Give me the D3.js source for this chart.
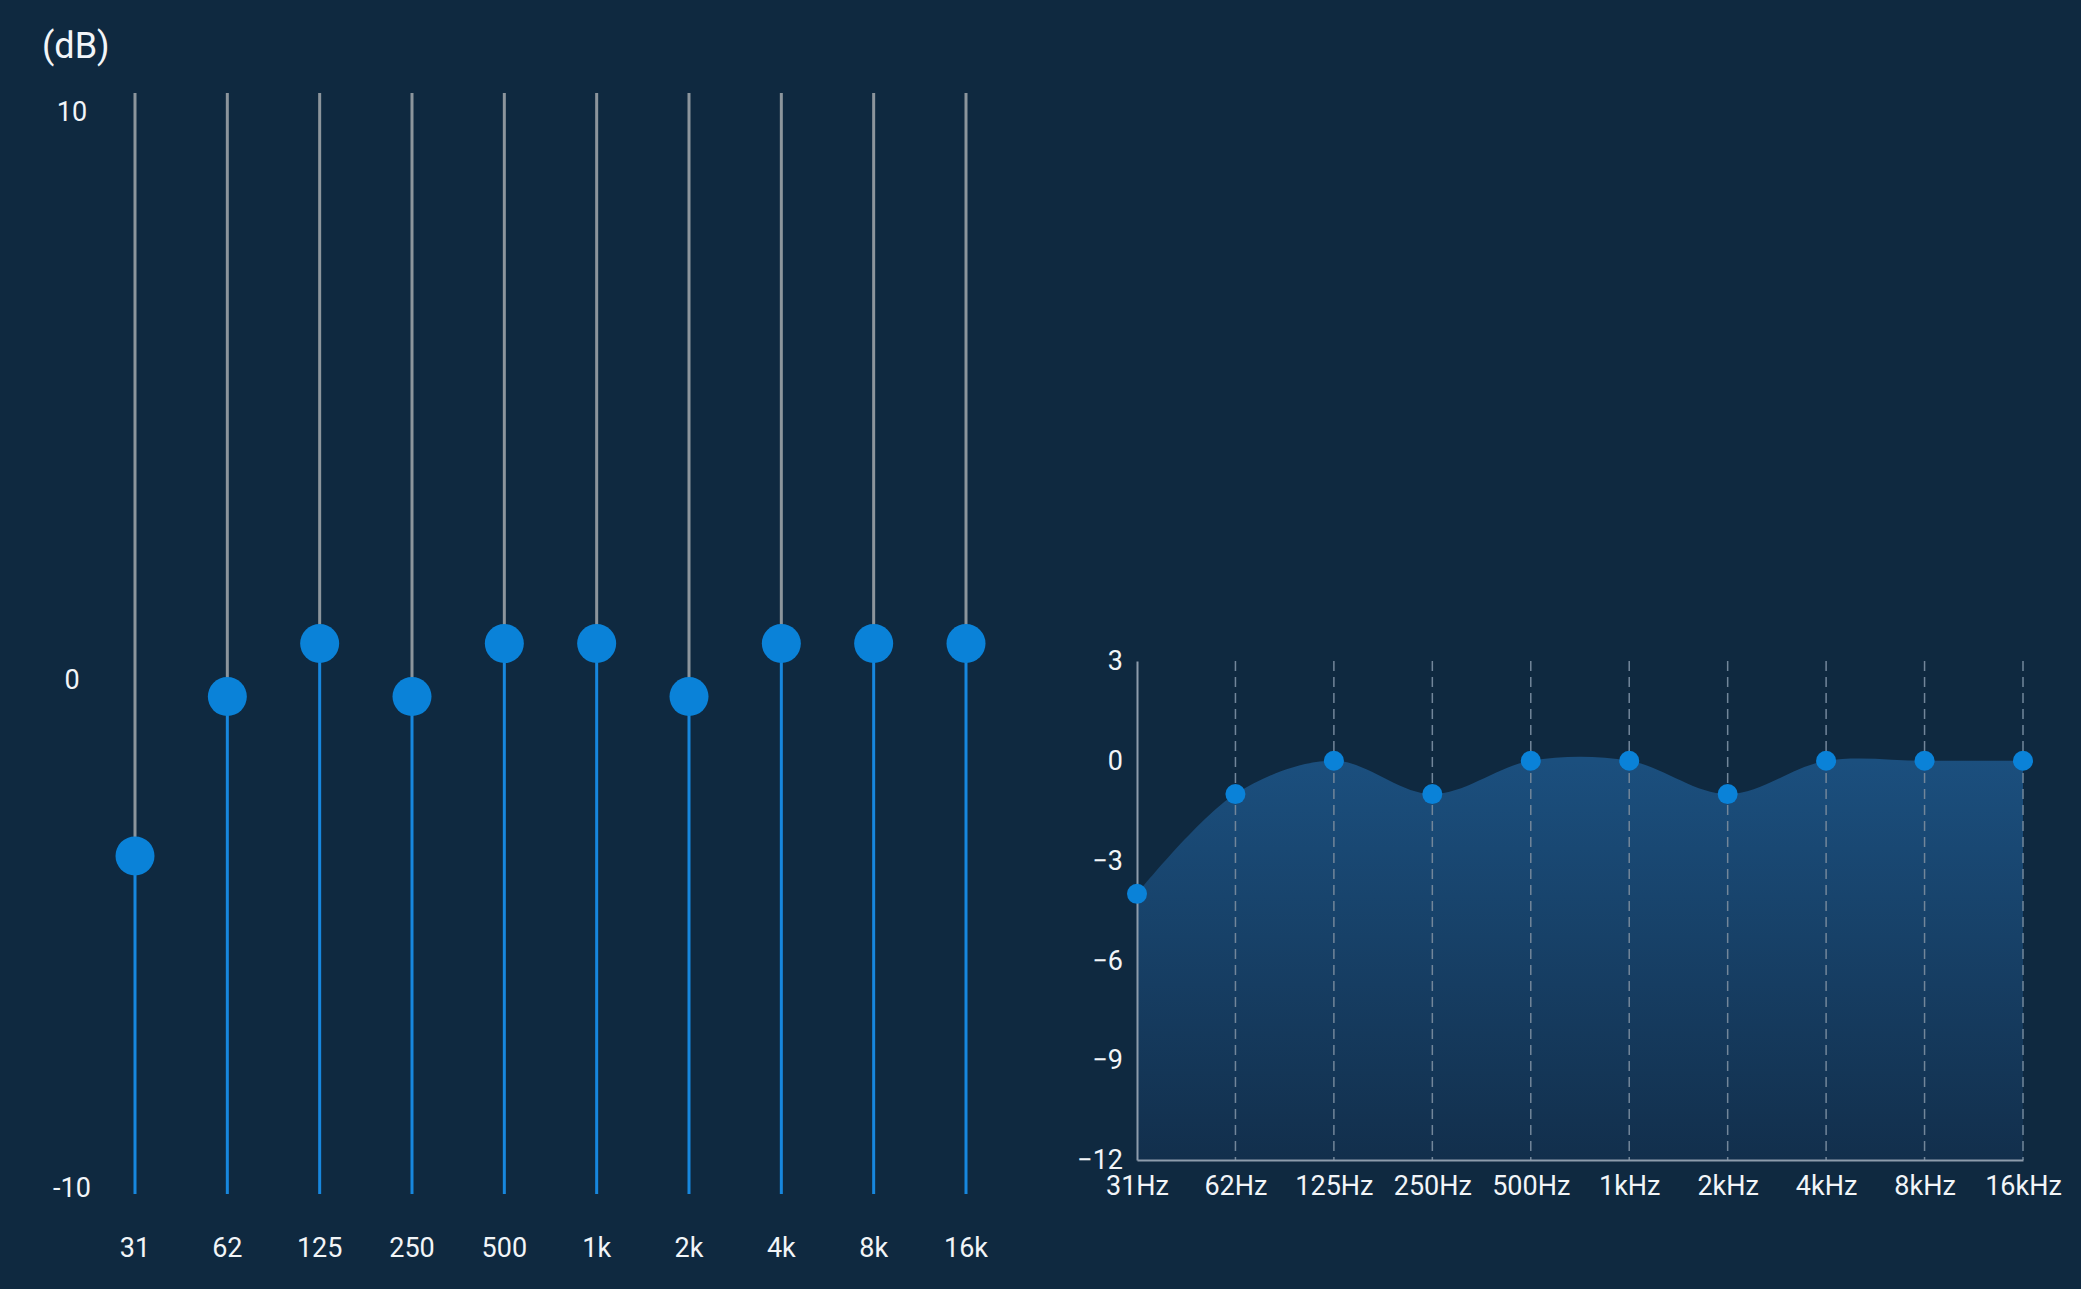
<!DOCTYPE html>
<html>
<head>
<meta charset="utf-8">
<script src="https://cdn.jsdelivr.net/npm/d3@7"></script>
<style>
  html, body { margin: 0; padding: 0; background: #0f2940; }
  svg { display: block; font-family: Roboto, "Noto Sans", sans-serif; }
</style>
</head>
<body>
<div id="eq"></div>
<script>
// equalizer bands and gains (dB)
var bandLabels = ["31", "62", "125", "250", "500", "1k", "2k", "4k", "8k", "16k"];
var hzLabels = ["31Hz", "62Hz", "125Hz", "250Hz", "500Hz", "1kHz", "2kHz", "4kHz", "8kHz", "16kHz"];
var gains = [-4, -1, 0, -1, 0, 0, -1, 0, 0, 0];
var sliderTicks = [10, 0, -10];
var curveTicks = [3, 0, -3, -6, -9, -12];

var width = 2081, height = 1289;

var svg = d3.select("#eq")
    .append("svg")
    .attr("width", width)
    .attr("height", height);

svg.append("rect")
    .attr("width", width)
    .attr("height", height)
    .attr("fill", "#0f2940");

var data = bandLabels.map(function(b, i) {
    return { band: b, hz: hzLabels[i], gain: gains[i] };
});

////////////////////////////
// LEFT: SLIDER EQUALIZER //
////////////////////////////

var trackTop = 93, trackBottom = 1194, knobR = 19.5;

var xs = d3.scalePoint()
    .domain(bandLabels)
    .range([135, 966]);

// knob travel is the track minus the knob radius
var ys = d3.scaleLinear()
    .domain([-10, 10])
    .range([trackBottom - knobR, trackTop + knobR]);

// tick labels sit a little off the knob scale in the original
var yLabel = d3.scaleLinear()
    .domain([10, 0, -10])
    .range([112, 680, 1188]);

svg.append("text")
    .attr("x", 42)
    .attr("y", 45)
    .attr("dy", "0.35em")
    .attr("fill", "#f2f5f8")
    .attr("font-size", 36)
    .text("(dB)");

svg.selectAll(".slabel")
    .data(sliderTicks)
    .join("text")
    .attr("class", "slabel")
    .attr("x", 72)
    .attr("y", function(d) { return yLabel(d); })
    .attr("dy", "0.35em")
    .attr("text-anchor", "middle")
    .attr("fill", "#f2f5f8")
    .attr("font-size", 27)
    .text(function(d) { return d; });

var slider = svg.selectAll(".slider")
    .data(data)
    .join("g")
    .attr("class", "slider");

// gray part above the knob
slider.append("line")
    .attr("x1", function(d) { return xs(d.band); })
    .attr("x2", function(d) { return xs(d.band); })
    .attr("y1", trackTop)
    .attr("y2", function(d) { return ys(d.gain); })
    .attr("stroke", "#8c959c")
    .attr("stroke-width", 3);

// blue part below the knob
slider.append("line")
    .attr("x1", function(d) { return xs(d.band); })
    .attr("x2", function(d) { return xs(d.band); })
    .attr("y1", function(d) { return ys(d.gain); })
    .attr("y2", trackBottom)
    .attr("stroke", "#1787de")
    .attr("stroke-width", 3);

slider.append("circle")
    .attr("cx", function(d) { return xs(d.band); })
    .attr("cy", function(d) { return ys(d.gain); })
    .attr("r", knobR)
    .attr("fill", "#0a82d8");

slider.append("text")
    .attr("x", function(d) { return xs(d.band); })
    .attr("y", 1248)
    .attr("dy", "0.35em")
    .attr("text-anchor", "middle")
    .attr("fill", "#f2f5f8")
    .attr("font-size", 27)
    .text(function(d) { return d.band; });

///////////////////////////////
// RIGHT: RESPONSE CURVE     //
///////////////////////////////

var plotLeft = 1137, plotRight = 2023, plotTop = 661, plotBottom = 1160;

var xc = d3.scalePoint()
    .domain(hzLabels)
    .range([plotLeft, plotRight]);

var yc = d3.scaleLinear()
    .domain([-12, 3])
    .range([plotBottom, plotTop]);

var defs = svg.append("defs");
var grad = defs.append("linearGradient")
    .attr("id", "areaFill")
    .attr("gradientUnits", "userSpaceOnUse")
    .attr("x1", 0).attr("x2", 0)
    .attr("y1", yc(0)).attr("y2", yc(-12));
grad.append("stop").attr("offset", "0%").attr("stop-color", "#1b4f7e");
grad.append("stop").attr("offset", "100%").attr("stop-color", "#122f4c");

var area = d3.area()
    .x(function(d) { return xc(d.hz); })
    .y0(yc(-12))
    .y1(function(d) { return yc(d.gain); })
    .curve(d3.curveCatmullRom);

svg.append("path")
    .datum(data)
    .attr("d", area)
    .attr("fill", "url(#areaFill)");

// dashed grid lines (first one is the solid y axis)
svg.selectAll(".grid")
    .data(hzLabels.slice(1))
    .join("line")
    .attr("class", "grid")
    .attr("x1", function(d) { return xc(d); })
    .attr("x2", function(d) { return xc(d); })
    .attr("y1", plotTop)
    .attr("y2", plotBottom)
    .attr("stroke", "#72869a")
    .attr("stroke-width", 1.5)
    .attr("stroke-dasharray", "10,6");

var yAxis = svg.append("g")
    .attr("transform", "translate(" + plotLeft + ",0)")
    .call(d3.axisLeft(yc).tickValues(curveTicks).tickSize(0).tickPadding(14));

var xAxis = svg.append("g")
    .attr("transform", "translate(0," + plotBottom + ")")
    .call(d3.axisBottom(xc).tickSize(0).tickPadding(16));

[yAxis, xAxis].forEach(function(ax) {
    ax.select(".domain").attr("stroke", "#8d9cab").attr("stroke-width", 2);
    ax.selectAll("text")
        .attr("fill", "#f2f5f8")
        .attr("font-size", 27)
        .attr("font-family", "Roboto, 'Noto Sans', sans-serif");
});

svg.selectAll(".dot")
    .data(data)
    .join("circle")
    .attr("class", "dot")
    .attr("cx", function(d) { return xc(d.hz); })
    .attr("cy", function(d) { return yc(d.gain); })
    .attr("r", 10)
    .attr("fill", "#0a82d8");
</script>
</body>
</html>
